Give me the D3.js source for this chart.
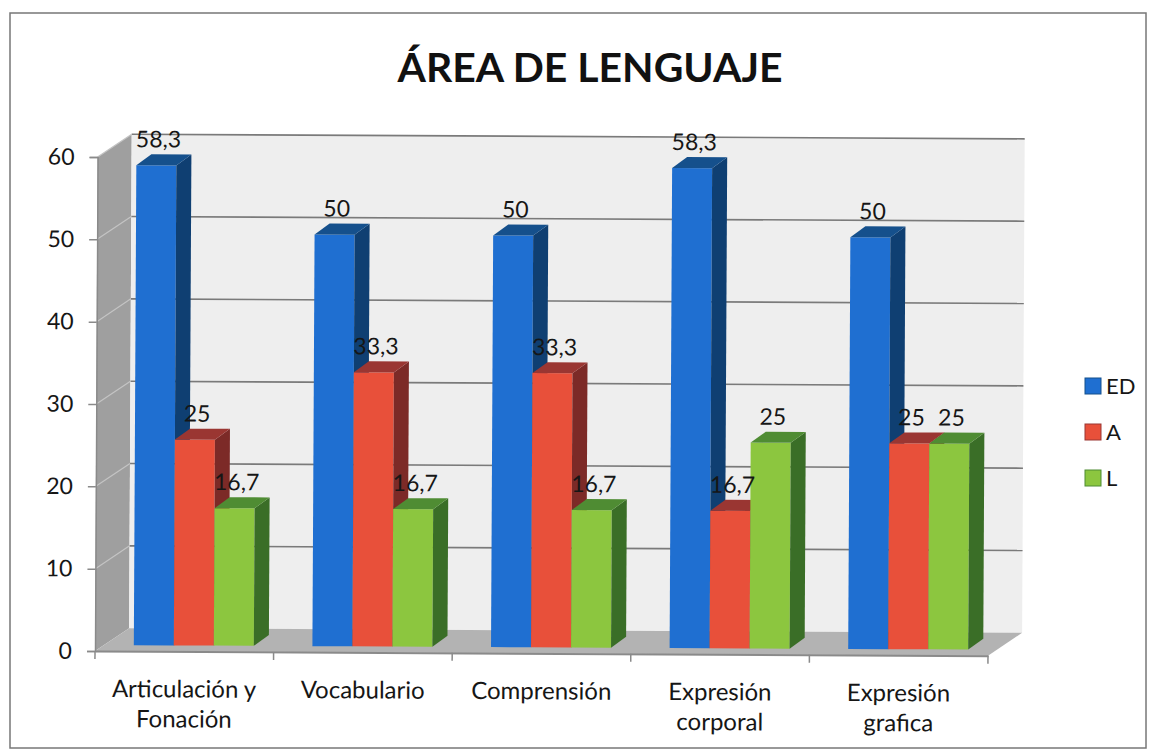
<!DOCTYPE html>
<html>
<head>
<meta charset="utf-8">
<script src="https://cdn.jsdelivr.net/npm/d3@7"></script>
<style>
  html, body { margin: 0; padding: 0; background: #ffffff; }
  svg { display: block; }
  text { font-family: Lato, "Open Sans", sans-serif; fill: #161616; }
</style>
</head>
<body>
<svg id="chart" width="1149" height="753"></svg>
<script>
// ---------- data ----------
const title = "ÁREA DE LENGUAJE";
const categories = ["Articulación y Fonación", "Vocabulario", "Comprensión", "Expresión corporal", "Expresión grafica"];
const categoryLines = [["Articulación y", "Fonación"], ["Vocabulario"], ["Comprensión"], ["Expresión", "corporal"], ["Expresión", "grafica"]];
const seriesNames = ["ED", "A", "L"];
const valuesED = [58.3, 50, 50, 58.3, 50];
const valuesA = [25, 33.3, 33.3, 16.7, 25];
const valuesL = [16.7, 16.7, 16.7, 25, 25];
const yTicks = [0, 10, 20, 30, 40, 50, 60];

// ---------- styling ----------
const colors = {
  ED: { front: "#1f6fd1", top: "#15508c", side: "#0f3f72" },
  A:  { front: "#e8503a", top: "#9a3632", side: "#7c2a27" },
  L:  { front: "#8cc63f", top: "#4f8c33", side: "#3a6e27" }
};
const seriesValues = { ED: valuesED, A: valuesA, L: valuesL };
const fmt = v => String(v).replace(".", ",");

const svg = d3.select("#chart");

// outer border
svg.append("rect").attr("x", 10).attr("y", 13).attr("width", 1136).attr("height", 735)
  .attr("fill", "#ffffff").attr("stroke", "#777").attr("stroke-width", 1.5);

// title
svg.append("text").attr("x", 590).attr("y", 82).attr("text-anchor", "middle")
  .attr("font-size", 41).attr("font-weight", "bold").style("fill", "#111")
  .attr("textLength", 385).attr("lengthAdjust", "spacingAndGlyphs")
  .text(title);

// scales
const x0 = d3.scaleBand().domain(categories).range([95, 988]).padding(0);
const x1 = d3.scaleBand().domain(seriesNames).range([0, x0.bandwidth()]).paddingInner(0).paddingOuter(0.732);
const y = d3.scaleLinear().domain([0, 60]).range([651, 157]);

const D = { dx: 34, dy: -23 };      // wall depth
const BD = { dx: 15, dy: -11 };     // bar depth
const BO = { dx: (D.dx - BD.dx) / 2, dy: (D.dy - BD.dy) / 2 }; // bar offset

const g = svg.append("g").attr("transform", "rotate(0.3, 95, 651)");

const xL = x0.range()[0], xR = x0.range()[1];
const yB = y(0), yT = y(60);
const poly = pts => pts.map(p => p.join(",")).join(" ");

// side wall
g.append("polygon").attr("points", poly([[xL, yB], [xL, yT], [xL + D.dx, yT + D.dy], [xL + D.dx, yB + D.dy]]))
  .attr("fill", "#9f9f9f");
// back wall
g.append("polygon").attr("points", poly([[xL + D.dx, yT + D.dy], [xR + D.dx, yT + D.dy], [xR + D.dx, yB + D.dy], [xL + D.dx, yB + D.dy]]))
  .attr("fill", "#eeeeee");
// floor
g.append("polygon").attr("points", poly([[xL, yB], [xR, yB], [xR + D.dx, yB + D.dy], [xL + D.dx, yB + D.dy]]))
  .attr("fill", "#b3b3b3");

// gridlines (back wall + side wall diagonals)
yTicks.filter(t => t > 0).forEach(t => {
  g.append("line").attr("x1", xL + D.dx).attr("x2", xR + D.dx)
    .attr("y1", y(t) + D.dy).attr("y2", y(t) + D.dy)
    .attr("stroke", "#7a7a7a").attr("stroke-width", 1.6);
  g.append("line").attr("x1", xL).attr("x2", xL + D.dx)
    .attr("y1", y(t)).attr("y2", y(t) + D.dy)
    .attr("stroke", "#c4c4c4").attr("stroke-width", 1.2);
});

// bars
categories.forEach((c, i) => {
  seriesNames.forEach(s => {
    const v = seriesValues[s][i];
    const xa = x0(c) + x1(s) + BO.dx;
    const w = x1.bandwidth();
    const yb = y(0) + BO.dy;
    const yt = y(v) + BO.dy;
    const col = colors[s];
    const bg = g.append("g");
    bg.append("rect").attr("x", xa).attr("y", yt).attr("width", w).attr("height", yb - yt).attr("fill", col.front);
    bg.append("polygon").attr("points", poly([[xa + w, yt], [xa + w + BD.dx, yt + BD.dy], [xa + w + BD.dx, yb + BD.dy], [xa + w, yb]]))
      .attr("fill", col.side);
    bg.append("polygon").attr("points", poly([[xa, yt], [xa + w, yt], [xa + w + BD.dx, yt + BD.dy], [xa + BD.dx, yt + BD.dy]]))
      .attr("fill", col.top);
  });
});

// value labels
categories.forEach((c, i) => {
  seriesNames.forEach(s => {
    const v = seriesValues[s][i];
    const xc = x0(c) + x1(s) + BO.dx + x1.bandwidth() / 2 + 2;
    const yt = y(v) + BO.dy + BD.dy;
    g.append("text").attr("x", xc).attr("y", yt - 7).attr("text-anchor", "middle")
      .attr("font-size", 23).text(fmt(v));
  });
});

// y axis
const yAxis = g.append("g").attr("transform", `translate(${xL},0)`)
  .call(d3.axisLeft(y).tickValues(yTicks).tickSize(8).tickPadding(15).tickFormat(d3.format("d")));
yAxis.select(".domain").attr("stroke", "#8a8a8a").attr("stroke-width", 1.5);
yAxis.selectAll(".tick line").attr("stroke", "#8a8a8a").attr("stroke-width", 1.5);
yAxis.selectAll(".tick text").attr("font-size", 23).attr("font-family", "Lato, sans-serif").attr("fill", "#161616");

// x axis
const xAxis = g.append("g").attr("transform", `translate(0,${yB})`)
  .call(d3.axisBottom(x0).tickSize(0).tickPadding(0));
xAxis.select(".domain").attr("stroke", "#8a8a8a").attr("stroke-width", 2);
xAxis.selectAll(".tick text").remove();
xAxis.selectAll(".tick").append("text")
  .attr("text-anchor", "middle").attr("font-size", 24).attr("font-family", "Lato, sans-serif")
  .each(function (d, i) {
    const t = d3.select(this);
    categoryLines[i].forEach((ln, k) => {
      t.append("tspan").attr("x", 0).attr("y", 46 + k * 30).text(ln);
    });
  });
// boundary ticks
const bounds = categories.map(c => x0(c)).concat([xR]);
xAxis.selectAll(".btick").data(bounds).enter().append("line")
  .attr("x1", d => d).attr("x2", d => d).attr("y1", 0).attr("y2", 8)
  .attr("stroke", "#8a8a8a").attr("stroke-width", 1.5);

// legend
const legend = svg.append("g").attr("transform", "translate(1085,378)");
seriesNames.forEach((s, k) => {
  const ly = k * 46;
  legend.append("rect").attr("x", 0).attr("y", ly).attr("width", 16).attr("height", 16)
    .attr("fill", colors[s].front).attr("stroke", colors[s].top).attr("stroke-width", 1);
  legend.append("text").attr("x", 21).attr("y", ly + 16).attr("font-size", 22).text(s);
});
</script>
</body>
</html>
